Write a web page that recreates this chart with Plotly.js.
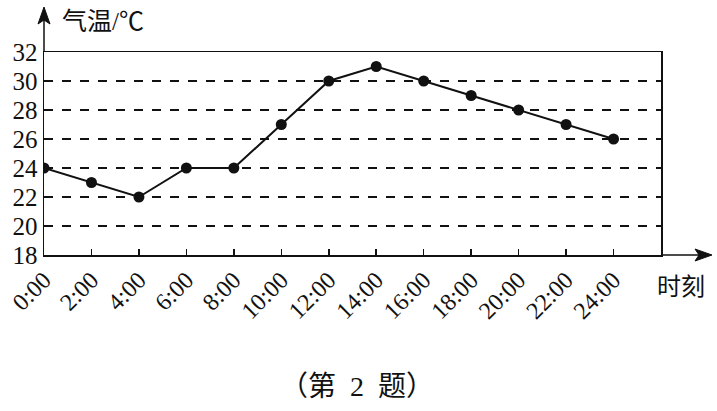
<!DOCTYPE html>
<html><head><meta charset="utf-8">
<script src="https://cdn.plot.ly/plotly-3.0.1.min.js"></script>
<style>body{margin:0;background:#fff}#c{width:717px;height:411px}</style>
</head><body><div id="c"></div>
<script>
const hours = [0,2,4,6,8,10,12,14,16,18,20,22,24];
const tickLabels = ["0:00","2:00","4:00","6:00","8:00","10:00","12:00","14:00","16:00","18:00","20:00","22:00","24:00"];
const temps = [24,23,22,24,24,27,30,31,30,29,28,27,26];
const yTicks = [18,20,22,24,26,28,30,32];

const serif = 'Liberation Serif, Noto Sans CJK SC, serif';
const L=44, R=661, T=52, B=255, W=R-L, H=B-T;
const px = x => (x-L)/W, py = y => (B-y)/H;

const trace = {x: hours, y: temps, type:'scatter', mode:'lines+markers',
  line:{color:'#111', width:2}, marker:{color:'#111', size:11}, hoverinfo:'none'};

const layout = {
  width:717, height:411, margin:{l:L, r:717-R, t:T, b:411-B},
  paper_bgcolor:'#fff', plot_bgcolor:'#fff', showlegend:false,
  font:{family:serif, color:'#111'},
  xaxis:{range:[0,26], tickvals:hours, ticktext:tickLabels, tickangle:-45,
    ticks:'inside', ticklen:6, tickwidth:1.5, tickcolor:'#111',
    showline:true, linecolor:'#111', linewidth:1.5, mirror:true,
    showgrid:false, zeroline:false, tickfont:{family:serif, size:24, color:'#111'}},
  yaxis:{range:[18,32], tickvals:yTicks, ticks:'', showline:true, linecolor:'#111', linewidth:1.5, mirror:true,
    showgrid:true, gridcolor:'#111', gridwidth:1.5, griddash:'dash', zeroline:false,
    tickfont:{family:serif, size:25, color:'#111'}},
  shapes:[
    {type:'line', xref:'paper', yref:'paper', x0:0, y0:1, x1:0, y1:py(14), line:{color:'#111', width:1.5}},
    {type:'path', xref:'paper', yref:'paper', path:`M ${px(44)} ${py(7)} L ${px(38)} ${py(24)} L ${px(44)} ${py(20)} L ${px(50)} ${py(24)} Z`, fillcolor:'#111', line:{color:'#111', width:1}},
    {type:'line', xref:'paper', yref:'paper', x0:1, y0:0, x1:px(705), y1:0, line:{color:'#111', width:1.5}},
    {type:'path', xref:'paper', yref:'paper', path:`M ${px(712)} ${py(255)} L ${px(695)} ${py(249)} L ${px(699)} ${py(255)} L ${px(695)} ${py(261)} Z`, fillcolor:'#111', line:{color:'#111', width:1}}
  ],
  annotations:[
    {xref:'paper', yref:'paper', x:px(60), y:py(21), xanchor:'left', yanchor:'middle', text:'气温/℃', showarrow:false, font:{family:serif, size:25, color:'#111'}},
    {xref:'paper', yref:'paper', x:px(655), y:py(287), xanchor:'left', yanchor:'middle', text:'时刻', showarrow:false, font:{family:serif, size:24, color:'#111'}},
    {xref:'paper', yref:'paper', x:px(357), y:py(386), xanchor:'center', yanchor:'middle', text:'（第&nbsp;&nbsp;2&nbsp;&nbsp;题）', showarrow:false, font:{family:serif, size:28, color:'#111'}}
  ]
};
Plotly.newPlot('c', [trace], layout, {staticPlot:true, displayModeBar:false});
</script></body></html>
